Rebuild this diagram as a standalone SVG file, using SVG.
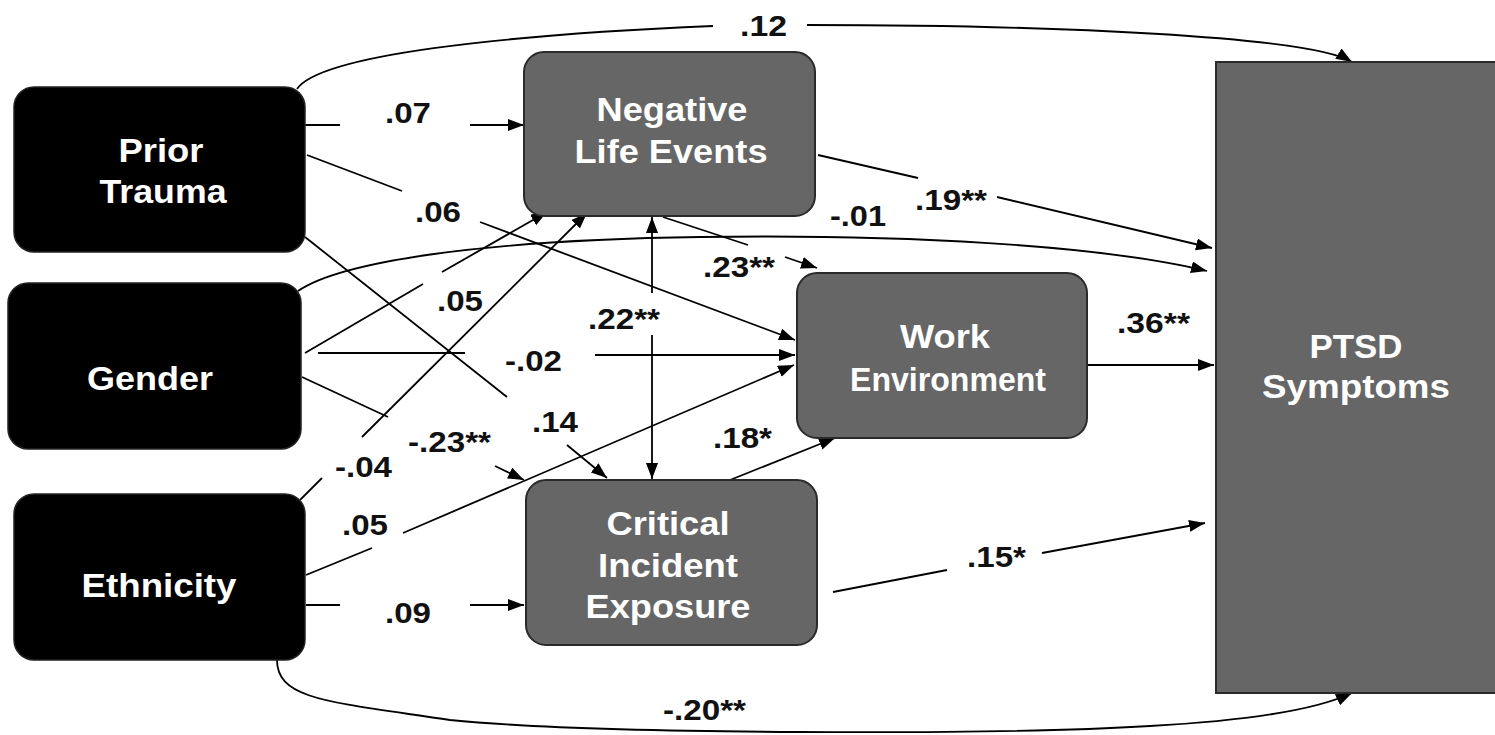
<svg xmlns="http://www.w3.org/2000/svg" width="1495" height="735" viewBox="0 0 1495 735">
<style>
.src rect{fill:#000;stroke:#222;stroke-width:1.5}
.med rect{fill:#666;stroke:#2a2a2a;stroke-width:2}
.nt{font-family:"Liberation Sans",Arial,sans-serif;font-weight:bold;font-size:34px;fill:#fff;text-anchor:middle}
.lb{font-family:"Liberation Sans",Arial,sans-serif;font-weight:bold;font-size:30px;fill:#111}
.c path,.c line{fill:none;stroke:#000;stroke-width:1.8}
.a{marker-end:url(#ah)}
</style>
<defs>
<marker id="ah" markerUnits="userSpaceOnUse" markerWidth="17" markerHeight="13" refX="16" refY="6" orient="auto-start-reverse">
<path d="M0,0 L16,6 L0,12 z" fill="#000"/>
</marker>
</defs>
<rect width="1495" height="735" fill="#fff"/>

<g id="connectors" class="c">
<path d="M297 89 C320 55 500 35 713 26"/>
<path class="a" d="M807 25 C1050 25 1310 36 1352 62"/>
<line x1="305" y1="125" x2="340" y2="125"/>
<line class="a" x1="470" y1="125" x2="524" y2="125"/>
<line x1="307" y1="155" x2="402" y2="191"/>
<line class="a" x1="480" y1="222" x2="795" y2="340"/>
<line x1="305" y1="237" x2="507" y2="397"/>
<line class="a" x1="567" y1="445" x2="607" y2="478"/>
<line x1="663" y1="217" x2="748" y2="245"/>
<line class="a" x1="785" y1="257" x2="817" y2="268"/>
<line x1="652" y1="217" x2="652" y2="293" style="marker-start:url(#ah)"/>
<line class="a" x1="652" y1="335" x2="652" y2="479"/>
<path class="a" d="M298 291 C340 262 480 240 700 237 C900 234 1100 245 1207 271"/>
<line x1="818" y1="155" x2="918" y2="178"/>
<line class="a" x1="997" y1="197" x2="1212" y2="248"/>
<line x1="305" y1="353" x2="423" y2="284"/>
<line class="a" x1="442" y1="272" x2="547" y2="212"/>
<line x1="300" y1="500" x2="322" y2="478"/>
<line class="a" x1="362" y1="437" x2="587" y2="213"/>
<line x1="318" y1="353" x2="465" y2="353"/>
<line class="a" x1="595" y1="355" x2="795" y2="355"/>
<line x1="302" y1="377" x2="388" y2="417"/>
<line class="a" x1="495" y1="466" x2="524" y2="480"/>
<line x1="306" y1="575" x2="372" y2="548"/>
<line class="a" x1="403" y1="533" x2="794" y2="365"/>
<line x1="306" y1="605" x2="340" y2="605"/>
<line class="a" x1="470" y1="605" x2="524" y2="605"/>
<line class="a" x1="730" y1="480" x2="835" y2="438"/>
<line x1="833" y1="592" x2="947" y2="570"/>
<line class="a" x1="1042" y1="553" x2="1205" y2="523"/>
<line class="a" x1="1088" y1="365" x2="1214" y2="365"/>
<path class="a" d="M277 660 C277 700 330 702 450 720 C600 735 1000 735 1150 726 C1260 720 1320 708 1352 693"/>
</g>

<g id="labels">
<text class="lb" x="740" y="36" textLength="47" lengthAdjust="spacingAndGlyphs">.12</text>
<text class="lb" x="385" y="123" textLength="46" lengthAdjust="spacingAndGlyphs">.07</text>
<text class="lb" x="415" y="222" textLength="46" lengthAdjust="spacingAndGlyphs">.06</text>
<text class="lb" x="830" y="226" textLength="56" lengthAdjust="spacingAndGlyphs">-.01</text>
<text class="lb" x="915" y="210" textLength="72" lengthAdjust="spacingAndGlyphs">.19**</text>
<text class="lb" x="703" y="277" textLength="72" lengthAdjust="spacingAndGlyphs">.23**</text>
<text class="lb" x="437" y="311" textLength="46" lengthAdjust="spacingAndGlyphs">.05</text>
<text class="lb" x="588" y="329" textLength="72" lengthAdjust="spacingAndGlyphs">.22**</text>
<text class="lb" x="505" y="371" textLength="57" lengthAdjust="spacingAndGlyphs">-.02</text>
<text class="lb" x="1117" y="333" textLength="73" lengthAdjust="spacingAndGlyphs">.36**</text>
<text class="lb" x="532" y="432" textLength="46" lengthAdjust="spacingAndGlyphs">.14</text>
<text class="lb" x="408" y="452" textLength="83" lengthAdjust="spacingAndGlyphs">-.23**</text>
<text class="lb" x="713" y="448" textLength="59" lengthAdjust="spacingAndGlyphs">.18*</text>
<text class="lb" x="335" y="477" textLength="57" lengthAdjust="spacingAndGlyphs">-.04</text>
<text class="lb" x="342" y="535" textLength="46" lengthAdjust="spacingAndGlyphs">.05</text>
<text class="lb" x="385" y="623" textLength="46" lengthAdjust="spacingAndGlyphs">.09</text>
<text class="lb" x="967" y="567" textLength="59" lengthAdjust="spacingAndGlyphs">.15*</text>
<text class="lb" x="663" y="720" textLength="83" lengthAdjust="spacingAndGlyphs">-.20**</text>
</g>

<g id="prior-trauma" class="src">
<rect x="14" y="87" width="291" height="165" rx="20"/>
<text class="nt" x="161" y="162" textLength="85" lengthAdjust="spacingAndGlyphs">Prior</text>
<text class="nt" x="163" y="203" textLength="127" lengthAdjust="spacingAndGlyphs">Trauma</text>
</g>
<g id="gender" class="src">
<rect x="8" y="283" width="293" height="166" rx="20"/>
<text class="nt" x="150" y="390" textLength="126" lengthAdjust="spacingAndGlyphs">Gender</text>
</g>
<g id="ethnicity" class="src">
<rect x="14" y="494" width="291" height="166" rx="20"/>
<text class="nt" x="159" y="597" textLength="155" lengthAdjust="spacingAndGlyphs">Ethnicity</text>
</g>
<g id="negative-life-events" class="med">
<rect x="524" y="52" width="291" height="164" rx="20"/>
<text class="nt" x="672" y="121" textLength="151" lengthAdjust="spacingAndGlyphs">Negative</text>
<text class="nt" x="671" y="163" textLength="193" lengthAdjust="spacingAndGlyphs">Life Events</text>
</g>
<g id="work-environment" class="med">
<rect x="797" y="273" width="290" height="165" rx="20"/>
<text class="nt" x="945" y="348" textLength="90" lengthAdjust="spacingAndGlyphs">Work</text>
<text class="nt" x="948" y="391" textLength="196" lengthAdjust="spacingAndGlyphs">Environment</text>
</g>
<g id="critical-incident-exposure" class="med">
<rect x="526" y="480" width="291" height="165" rx="20"/>
<text class="nt" x="668" y="535" textLength="123" lengthAdjust="spacingAndGlyphs">Critical</text>
<text class="nt" x="668" y="577" textLength="140" lengthAdjust="spacingAndGlyphs">Incident</text>
<text class="nt" x="668" y="618" textLength="165" lengthAdjust="spacingAndGlyphs">Exposure</text>
</g>
<g id="ptsd-symptoms" class="med">
<rect x="1216" y="62" width="290" height="631"/>
<text class="nt" x="1356" y="358" textLength="93" lengthAdjust="spacingAndGlyphs">PTSD</text>
<text class="nt" x="1356" y="398" textLength="188" lengthAdjust="spacingAndGlyphs">Symptoms</text>
</g>
</svg>
